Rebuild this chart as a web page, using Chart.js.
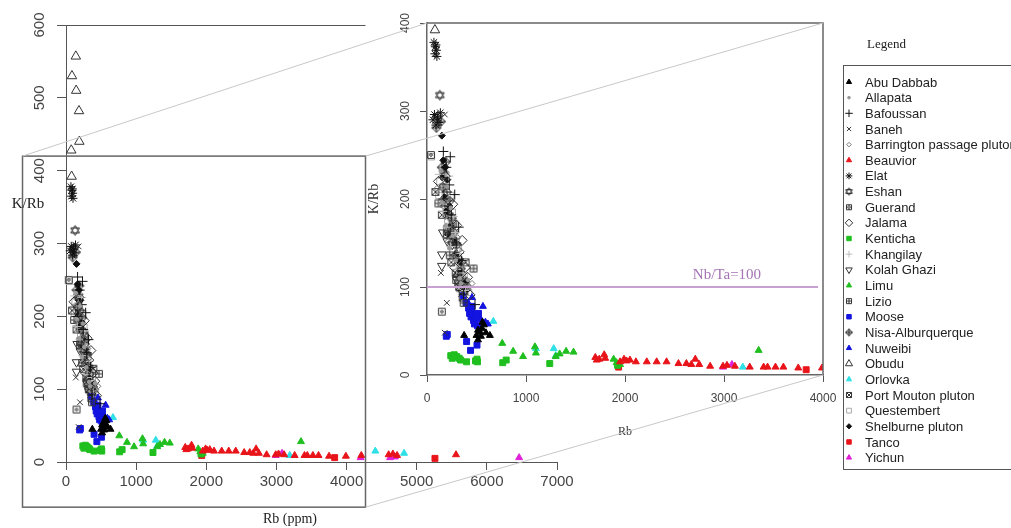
<!DOCTYPE html>
<html>
<head>
<meta charset="UTF-8">
<title>K/Rb vs Rb</title>
<style>
  body { margin: 0; background: #fff; }
  #wrap { position: relative; width: 1011px; height: 528px; }
  #wrap canvas { position: absolute; left: 0; top: 0; }
</style>
</head>
<body>
<div id="wrap">
  <canvas id="mainChart" width="1011" height="528"></canvas>
  <canvas id="insetChart" width="1011" height="528"></canvas>
</div>

<script src="https://cdn.jsdelivr.net/npm/chart.js"></script>
<script>
// ---- data: [Rb (ppm), K/Rb] for each pluton ----
const abuDabbab = [[375,45],[500,45],[515,51],[535,49],[555,53],[575,57],[515,40],[595,48],[635,45],[545,44],[560,60]];
const allapata = [[140,232],[200,214],[155,196],[240,190],[190,170],[260,158],[225,144],[290,130],[330,110],[345,104],[415,108]];
const bafoussan = [[165,254],[235,248],[195,236],[225,216],[165,200],[280,205],[245,182],[320,168],[295,150],[350,130],[370,92],[485,80]];
const baneh = [[180,296],[140,116],[200,82],[180,48],[240,186],[345,92]];
const barrington = [[100,212],[175,217],[140,194],[215,200],[185,180],[240,176],[265,168],[215,152],[310,156],[270,134],[320,142],[345,126],[365,102],[425,100],[455,104],[380,92]];
const beauvior = [[1700,20],[1715,17],[1740,18],[1790,23],[1800,19],[1950,15],[1990,18],[2015,16],[2050,17],[2110,15],[2220,15],[2320,15],[2420,15],[2540,13],[2620,13],[2670,12],[2710,18],[2750,12],[2860,10],[2990,10],[3030,11],[3110,10],[3260,9],[3400,9],[3440,9],[3520,9],[3600,9],[3750,8],[3990,8],[4210,9],[4600,10],[4660,11],[4720,9],[5560,10]];
const elat = [[70,378],[85,373],[95,369],[80,365],[100,362],[90,375],[75,296],[105,292],[120,287],[90,284],[135,298],[60,290]];
const eshan = [[130,318]];
const guerand = [[40,250],[150,72],[200,160],[295,108]];
const jalama = [[115,220],[185,226],[260,194],[300,170],[355,153],[325,140],[385,122],[410,111],[435,91],[280,122]];
const kenticha = [[240,22],[255,19],[275,23],[300,21],[325,19],[340,17],[400,15],[490,16],[510,15],[505,18],[765,14],[800,17],[1240,13],[1925,11]];
const khangilay = [[125,228],[220,226],[160,186],[265,180],[200,168],[285,162],[240,146],[330,138],[300,120],[365,116],[390,96]];
const kolahGhazi = [[160,162],[150,137],[150,124],[205,152],[255,148],[300,108]];
const limu = [[760,36],[870,27],[970,21],[1090,32],[1100,25],[1300,21],[1340,24],[1405,27],[1480,26],[1885,18],[1915,14],[1950,12],[3350,28]];
const lizio = [[470,121],[115,195],[230,136],[315,104],[370,82],[260,172]];
const moose = [[205,46],[195,44],[400,38],[440,28],[505,34],[365,90],[395,82],[420,76],[430,70],[445,66],[470,62],[490,68],[505,64],[520,70],[480,58],[455,78],[510,56]];
const nisaAlburquerque = [[110,294],[140,288],[95,281],[150,236],[175,230],[190,242],[165,213],[200,208],[230,198],[180,192],[215,183],[250,178],[235,166],[270,162],[255,151],[300,148],[285,136],[320,132],[340,121],[310,114],[360,110],[380,103],[355,96]];
const nuweibi = [[415,82],[565,78],[615,58],[470,72],[540,64],[455,88],[590,60]];
const obudu = [[140,557],[85,530],[145,510],[185,482],[190,440],[75,428],[80,392]];
const orlovka = [[670,61],[1100,30],[1280,30],[1300,22],[3190,9],[4410,15],[4820,12]];
const portMouton = [[85,208],[150,182],[205,166],[245,128],[290,116],[325,100],[360,88],[390,128]];
const questembert = [[45,248],[130,220],[160,214],[120,204],[240,204],[190,196],[255,185],[210,176],[280,172],[230,158],[295,152],[260,140],[315,144],[340,118],[375,112],[400,100],[420,94],[330,98]];
const shelburne = [[150,272],[165,244],[185,236],[150,225],[205,222],[175,202],[225,192],[195,186],[245,170],[210,160],[275,155],[300,138],[330,128],[350,117],[395,106],[405,97]];
const tanco = [[1935,9],[3830,6],[5260,5]];
const yichun = [[2990,9],[3080,12],[4200,6],[4620,6],[4690,7],[6460,6]];

const groupNames = ['Abu Dabbab', 'Allapata', 'Bafoussan', 'Baneh', 'Barrington passage pluton', 'Beauvior',
  'Elat', 'Eshan', 'Guerand', 'Jalama', 'Kenticha', 'Khangilay', 'Kolah Ghazi', 'Limu', 'Lizio', 'Moose',
  'Nisa-Alburquerque', 'Nuweibi', 'Obudu', 'Orlovka', 'Port Mouton pluton', 'Questembert',
  'Shelburne pluton', 'Tanco', 'Yichun'];
const groupData = [abuDabbab, allapata, bafoussan, baneh, barrington, beauvior, elat, eshan, guerand, jalama,
  kenticha, khangilay, kolahGhazi, limu, lizio, moose, nisaAlburquerque, nuweibi, obudu, orlovka,
  portMouton, questembert, shelburne, tanco, yichun];

// axis ranges
const mainRbRange = [0, 7000];
const mainKRbRange = [0, 600];
const insetRbRange = [0, 4000];
const insetKRbRange = [0, 400];
const rbStep = 1000;
const kRbStep = 100;
const nbTaLimit = 100;
// part of the main plot that is enlarged in the inset
const zoomBoxRb = [-620, 4270];
const zoomBoxKRb = [-62, 420];

// ---- symbols ----
const RED = '#e8141a', GREEN = '#1fbf1f', BLUE = '#1414e0', CYAN = '#2fe0e6', MAGENTA = '#e020d8';
const groupStyle = {
  'Abu Dabbab': { shape: 'triangle', color: '#000', fill: true, r: 4 },
  'Allapata': { shape: 'circle', color: '#999', fill: true, r: 1.8 },
  'Bafoussan': { shape: 'cross', color: '#111', r: 5 },
  'Baneh': { shape: 'crossRot', color: '#333', r: 4 },
  'Barrington passage pluton': { shape: 'rectRot', color: '#777', r: 3 },
  'Beauvior': { shape: 'triangle', color: RED, fill: true, r: 4 },
  'Elat': { shape: 'star', color: '#111', r: 4.5 },
  'Eshan': { shape: 'hexagram', color: '#222', r: 5 },
  'Guerand': { shape: 'squareDot', color: '#333', r: 4.5 },
  'Jalama': { shape: 'rectRot', color: '#333', r: 5 },
  'Kenticha': { shape: 'rect', color: GREEN, fill: true, r: 4.2 },
  'Khangilay': { shape: 'cross', color: '#bbb', r: 4.5 },
  'Kolah Ghazi': { shape: 'triangle', color: '#333', r: 5, rot: 180 },
  'Limu': { shape: 'triangle', color: GREEN, fill: true, r: 4 },
  'Lizio': { shape: 'squarePlus', color: '#333', r: 4.5 },
  'Moose': { shape: 'rect', color: BLUE, fill: true, r: 4.2 },
  'Nisa-Alburquerque': { shape: 'diamondPlus', color: '#111', r: 4.5 },
  'Nuweibi': { shape: 'triangle', color: BLUE, fill: true, r: 4 },
  'Obudu': { shape: 'triangle', color: '#333', r: 5.5 },
  'Orlovka': { shape: 'triangle', color: CYAN, fill: true, r: 4 },
  'Port Mouton pluton': { shape: 'squareX', color: '#333', r: 4.5 },
  'Questembert': { shape: 'rect', color: '#aaa', r: 4.5 },
  'Shelburne pluton': { shape: 'rectRot', color: '#111', fill: true, r: 3.5 },
  'Tanco': { shape: 'rect', color: RED, fill: true, r: 4.2 },
  'Yichun': { shape: 'triangle', color: MAGENTA, fill: true, r: 4 }
};
const builtInShapes = ['triangle', 'circle', 'cross', 'crossRot', 'rectRot', 'rect', 'star'];

// R-like symbols that chart.js has no built-in style for
function shapeCanvas(shape, color, r) {
  const size = Math.ceil(r * 2 + 3);
  const c = document.createElement('canvas');
  c.width = size; c.height = size;
  const g = c.getContext('2d');
  const m = size / 2;
  g.strokeStyle = color;
  g.lineWidth = 1;
  g.beginPath();
  if (shape === 'hexagram') {
    [1, -1].forEach(d => {
      g.moveTo(m, m - d * r);
      g.lineTo(m + r * 0.866, m + d * r * 0.5);
      g.lineTo(m - r * 0.866, m + d * r * 0.5);
      g.closePath();
    });
  } else if (shape === 'diamondPlus') {
    g.moveTo(m, m - r); g.lineTo(m + r, m); g.lineTo(m, m + r); g.lineTo(m - r, m); g.closePath();
    g.moveTo(m, m - r); g.lineTo(m, m + r);
    g.moveTo(m - r, m); g.lineTo(m + r, m);
  } else {
    const h = r * 0.75;
    g.rect(m - h, m - h, 2 * h, 2 * h);
    if (shape === 'squarePlus') {
      g.moveTo(m, m - h); g.lineTo(m, m + h);
      g.moveTo(m - h, m); g.lineTo(m + h, m);
    } else if (shape === 'squareX') {
      g.moveTo(m - h, m - h); g.lineTo(m + h, m + h);
      g.moveTo(m + h, m - h); g.lineTo(m - h, m + h);
    } else {
      g.moveTo(m + 1.3, m); g.arc(m, m, 1.3, 0, Math.PI * 2);
    }
  }
  g.stroke();
  return c;
}

function pointStyleOf(st, scale) {
  return builtInShapes.includes(st.shape) ? st.shape : shapeCanvas(st.shape, st.color, st.r * scale);
}

function buildDatasets() {
  return groupNames.map((name, i) => {
    const st = groupStyle[name];
    return {
      label: name,
      data: groupData[i].map(p => ({ x: p[0], y: p[1] })),
      pointStyle: pointStyleOf(st, 1),
      pointRadius: st.r,
      pointRotation: st.rot || 0,
      backgroundColor: st.fill ? st.color : 'rgba(0,0,0,0)',
      borderColor: st.color,
      borderWidth: 1,
      showLine: false
    };
  });
}

const TICK_FONT = 'Liberation Sans, Arial, sans-serif';
const TITLE_FONT = 'Liberation Serif, Times New Roman, serif';
const plainNumber = v => String(v);

function rotatedYLabels(ctx, scale, xPos, size) {
  ctx.save();
  ctx.fillStyle = '#444';
  ctx.font = size + 'px ' + TICK_FONT;
  ctx.textAlign = 'center';
  ctx.textBaseline = 'middle';
  scale.ticks.forEach(t => {
    ctx.save();
    ctx.translate(xPos, scale.getPixelForValue(t.value));
    ctx.rotate(-Math.PI / 2);
    ctx.fillText(String(t.value), 0, 0);
    ctx.restore();
  });
  ctx.restore();
}

// axis labels, zoom rectangle and legend of the main plot
const mainDecor = {
  id: 'mainDecor',
  afterDraw(chart) {
    const { ctx, scales: { x, y } } = chart;
    ctx.save();
    ctx.strokeStyle = '#555';
    ctx.lineWidth = 1;

    // top rule at the axis maximum
    ctx.beginPath();
    ctx.moveTo(x.left - 9, y.getPixelForValue(mainKRbRange[1]) + 0.5);
    ctx.lineTo(x.getPixelForValue(zoomBoxRb[1]), y.getPixelForValue(mainKRbRange[1]) + 0.5);
    ctx.stroke();

    // zoom rectangle
    const bx0 = x.getPixelForValue(zoomBoxRb[0]), bx1 = x.getPixelForValue(zoomBoxRb[1]);
    const by0 = y.getPixelForValue(zoomBoxKRb[1]), by1 = y.getPixelForValue(zoomBoxKRb[0]);
    ctx.lineWidth = 1.5;
    ctx.strokeStyle = '#666';
    ctx.strokeRect(bx0, by0, bx1 - bx0, by1 - by0);

    rotatedYLabels(ctx, y, 40, 15);

    ctx.fillStyle = '#222';
    ctx.font = '15px ' + TITLE_FONT;
    ctx.textAlign = 'center';
    ctx.textBaseline = 'middle';
    ctx.fillText('K/Rb', 28, 204);
    ctx.font = '14px ' + TITLE_FONT;
    ctx.fillText('Rb (ppm)', 290, 519);

    // legend
    ctx.fillStyle = '#222';
    ctx.font = '13px ' + TITLE_FONT;
    ctx.textAlign = 'left';
    ctx.fillText('Legend', 867, 45);
    ctx.strokeStyle = '#555';
    ctx.lineWidth = 1;
    ctx.strokeRect(843.5, 65.5, 200, 404);

    const drawPoint = Chart.helpers.drawPoint;
    ctx.font = '13px ' + TICK_FONT;
    groupNames.forEach((name, i) => {
      const st = groupStyle[name];
      const ly = 82 + i * 15.65;
      ctx.save();
      ctx.fillStyle = st.fill ? st.color : 'rgba(0,0,0,0)';
      ctx.strokeStyle = st.color;
      ctx.lineWidth = 1;
      drawPoint(ctx, {
        pointStyle: pointStyleOf(st, 0.75),
        radius: st.r * 0.75,
        rotation: st.rot || 0,
        borderWidth: 1
      }, 849, ly);
      ctx.restore();
      ctx.fillStyle = '#222';
      ctx.fillText(name, 865, ly + 1);
    });
    ctx.restore();
  }
};

const mainChart = new Chart(document.getElementById('mainChart'), {
  type: 'scatter',
  data: { datasets: buildDatasets() },
  options: {
    responsive: false,
    animation: false,
    devicePixelRatio: 1,
    layout: { padding: { top: 25, right: 454, left: 0, bottom: 0 } },
    plugins: { legend: { display: false }, tooltip: { enabled: false } },
    events: [],
    datasets: { scatter: { clip: false } },
    scales: {
      x: {
        type: 'linear',
        min: mainRbRange[0], max: mainRbRange[1],
        afterFit: s => { s.height = 66; },
        ticks: { stepSize: rbStep, autoSkip: false, maxRotation: 0, padding: 3, color: '#444',
                 callback: plainNumber, font: { family: TICK_FONT, size: 15 } },
        grid: { drawOnChartArea: false, tickLength: 8, color: '#555' },
        border: { color: '#555' }
      },
      y: {
        min: mainKRbRange[0], max: mainKRbRange[1],
        afterFit: s => { s.width = 66; },
        ticks: { stepSize: kRbStep, display: false },
        grid: { drawOnChartArea: false, tickLength: 9, color: '#555' },
        border: { color: '#555' }
      }
    }
  },
  plugins: [mainDecor]
});

// frame, labels and connector lines of the enlarged view
const insetDecor = {
  id: 'insetDecor',
  afterDraw(chart) {
    const { ctx, chartArea: a, scales: { x, y } } = chart;
    ctx.save();
    ctx.strokeStyle = '#666';
    ctx.lineWidth = 1.5;
    ctx.beginPath();
    ctx.moveTo(a.left, a.top);
    ctx.lineTo(a.right, a.top);
    ctx.lineTo(a.right, a.bottom);
    ctx.stroke();

    rotatedYLabels(ctx, y, 406, 12);

    ctx.fillStyle = '#333';
    ctx.textAlign = 'center';
    ctx.textBaseline = 'middle';
    ctx.font = '12px ' + TITLE_FONT;
    ctx.fillText('Rb', (a.left + a.right) / 2, 432);
    ctx.save();
    ctx.translate(374, (a.top + a.bottom) / 2);
    ctx.rotate(-Math.PI / 2);
    ctx.font = '14px ' + TITLE_FONT;
    ctx.fillText('K/Rb', 0, 0);
    ctx.restore();

    ctx.fillStyle = '#a474b4';
    ctx.font = '15px ' + TITLE_FONT;
    ctx.fillText('Nb/Ta=' + nbTaLimit, x.getPixelForValue(3030), y.getPixelForValue(nbTaLimit) - 12);

    // connectors from the zoom rectangle on the main plot
    const mx = mainChart.scales.x, my = mainChart.scales.y;
    const bx0 = mx.getPixelForValue(zoomBoxRb[0]), bx1 = mx.getPixelForValue(zoomBoxRb[1]);
    const by0 = my.getPixelForValue(zoomBoxKRb[1]), by1 = my.getPixelForValue(zoomBoxKRb[0]);
    ctx.strokeStyle = '#c8c8c8';
    ctx.lineWidth = 1;
    ctx.beginPath();
    ctx.moveTo(bx0, by0); ctx.lineTo(a.left, a.top);
    ctx.moveTo(bx1, by0); ctx.lineTo(a.right, a.top);
    ctx.moveTo(bx1, by1); ctx.lineTo(a.right, a.bottom);
    ctx.stroke();
    ctx.restore();
  }
};

const insetSets = buildDatasets();
insetSets.unshift({
  type: 'line',
  label: 'Nb/Ta',
  data: [{ x: insetRbRange[0], y: nbTaLimit }, { x: 3950, y: nbTaLimit }],
  borderColor: '#c8a0d2',
  borderWidth: 2,
  pointRadius: 0
});

const insetChart = new Chart(document.getElementById('insetChart'), {
  type: 'scatter',
  data: { datasets: insetSets },
  options: {
    responsive: false,
    animation: false,
    devicePixelRatio: 1,
    layout: { padding: { top: 23, right: 188, left: 0, bottom: 0 } },
    plugins: { legend: { display: false }, tooltip: { enabled: false } },
    events: [],
    scales: {
      x: {
        type: 'linear',
        min: insetRbRange[0], max: insetRbRange[1],
        afterFit: s => { s.height = 153; },
        ticks: { stepSize: rbStep, autoSkip: false, maxRotation: 0, padding: 9, color: '#444',
                 callback: plainNumber, font: { family: TICK_FONT, size: 12 } },
        grid: { drawOnChartArea: false, tickLength: 7, color: '#555' },
        border: { color: '#666', width: 1.5 }
      },
      y: {
        min: insetKRbRange[0], max: insetKRbRange[1],
        afterFit: s => { s.width = 427; },
        ticks: { stepSize: kRbStep, display: false },
        grid: { drawOnChartArea: false, tickLength: 7, color: '#555' },
        border: { color: '#666', width: 1.5 }
      }
    }
  },
  plugins: [insetDecor]
});
</script>
</body>
</html>
